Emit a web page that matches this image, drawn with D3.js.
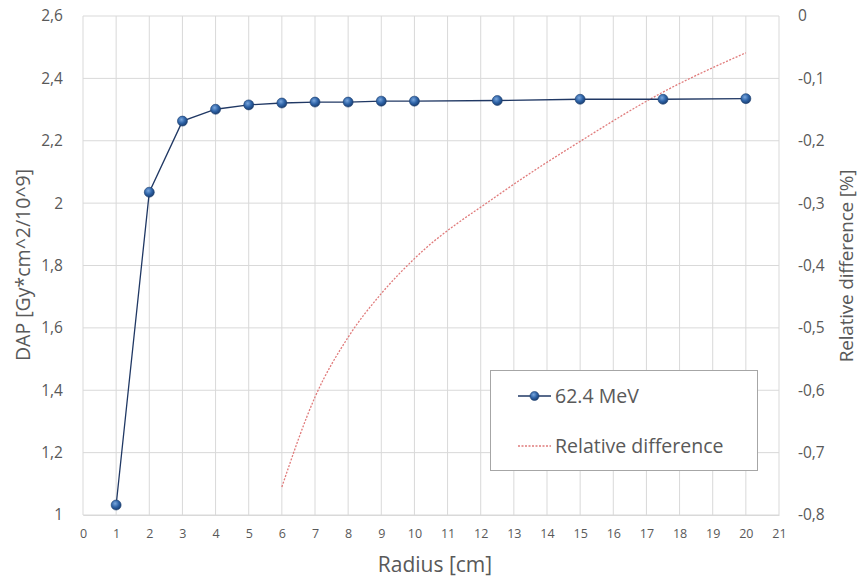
<!DOCTYPE html>
<html>
<head>
<meta charset="utf-8">
<script src="https://cdn.jsdelivr.net/npm/d3@7"></script>
<style>
  body { margin: 0; background: #fff; }
  svg text { font-family: "Open Sans", Lato, sans-serif; fill: #595959; }
</style>
</head>
<body>
<div id="chart-area"></div>
<script>
// data
const radius = [1, 2, 3, 4, 5, 6, 7, 8, 9, 10, 12.5, 15, 17.5, 20]
const dap = [1.032, 2.035, 2.263, 2.301, 2.315, 2.321, 2.324, 2.324, 2.327, 2.327, 2.329, 2.333, 2.333, 2.335]
const relRadius = [6, 7, 8, 9, 10, 12.5, 15, 17.5, 20]
const relDiff = [-0.755, -0.611, -0.515, -0.445, -0.389, -0.288, -0.201, -0.122, -0.059]
const xTicks = d3.range(0, 22)
const yTicks = [1, 1.2, 1.4, 1.6, 1.8, 2, 2.2, 2.4, 2.6]
const y2Ticks = [0, -0.1, -0.2, -0.3, -0.4, -0.5, -0.6, -0.7, -0.8]

const margin = { left: 83, right: 80, top: 16, bottom: 64 }
const fullW = 859, fullH = 579
const width = fullW - margin.left - margin.right
const height = fullH - margin.top - margin.bottom

const comma = d => String(d).replace('.', ',')

const svg = d3.select('#chart-area').append('svg')
    .attr('width', fullW)
    .attr('height', fullH)

const defs = svg.append('defs')
const grad = defs.append('radialGradient')
    .attr('id', 'marker-grad')
    .attr('cx', '40%').attr('cy', '35%').attr('r', '65%')
grad.append('stop').attr('offset', '0%').attr('stop-color', '#7aa7dd')
grad.append('stop').attr('offset', '55%').attr('stop-color', '#2f64a8')
grad.append('stop').attr('offset', '100%').attr('stop-color', '#1a3f73')

const g = svg.append('g')
    .attr('transform', `translate(${margin.left}, ${margin.top})`)

const xScale = d3.scaleLinear().domain([0, 21]).range([0, width])
const yScale = d3.scaleLinear().domain([1, 2.6]).range([height, 0])
const y2Scale = d3.scaleLinear().domain([-0.8, 0]).range([height, 0])

// gridlines
g.append('g')
    .selectAll('line')
    .data(xTicks)
    .enter().append('line')
    .attr('x1', d => xScale(d)).attr('x2', d => xScale(d))
    .attr('y1', 0).attr('y2', height)
    .attr('stroke', '#d9d9d9').attr('stroke-width', 1)

g.append('g')
    .selectAll('line')
    .data(yTicks)
    .enter().append('line')
    .attr('x1', 0).attr('x2', width)
    .attr('y1', d => yScale(d)).attr('y2', d => yScale(d))
    .attr('stroke', '#d9d9d9').attr('stroke-width', 1)

// axes
const xAxis = g.append('g')
    .attr('transform', `translate(0, ${height})`)
    .call(d3.axisBottom(xScale).tickValues(xTicks).tickSize(0).tickPadding(14))
xAxis.select('.domain').attr('stroke', '#d9d9d9')
xAxis.selectAll('text').attr('font-size', '12.5px').attr('fill', '#595959')

const yAxis = g.append('g')
    .call(d3.axisLeft(yScale).tickValues(yTicks).tickFormat(comma).tickSize(0).tickPadding(20))
yAxis.select('.domain').remove()
yAxis.selectAll('text').attr('font-size', '15.5px').attr('fill', '#595959')

const y2Axis = g.append('g')
    .attr('transform', `translate(${width}, 0)`)
    .call(d3.axisRight(y2Scale).tickValues(y2Ticks).tickFormat(comma).tickSize(0).tickPadding(19))
y2Axis.select('.domain').remove()
y2Axis.selectAll('text').attr('font-size', '15.5px').attr('fill', '#595959')

// relative difference (dotted red)
const relLine = d3.line()
    .x((d, i) => xScale(relRadius[i]))
    .y(d => y2Scale(d))
    .curve(d3.curveMonotoneX)

g.append('path')
    .datum(relDiff)
    .attr('d', relLine)
    .attr('fill', 'none')
    .attr('stroke', '#e07b7b')
    .attr('stroke-width', 1.3)
    .attr('stroke-dasharray', '2,1.5')

// DAP series
const dapLine = d3.line()
    .x((d, i) => xScale(radius[i]))
    .y(d => yScale(d))

g.append('path')
    .datum(dap)
    .attr('d', dapLine)
    .attr('fill', 'none')
    .attr('stroke', '#203864')
    .attr('stroke-width', 1.3)

g.selectAll('circle.pt')
    .data(dap)
    .enter().append('circle')
    .attr('class', 'pt')
    .attr('cx', (d, i) => xScale(radius[i]))
    .attr('cy', d => yScale(d))
    .attr('r', 5)
    .attr('fill', 'url(#marker-grad)')
    .attr('stroke', '#1f3f6e')
    .attr('stroke-width', 0.6)

// axis labels
svg.append('text')
    .attr('x', 435)
    .attr('y', 572)
    .attr('font-size', '21px')
    .attr('text-anchor', 'middle')
    .text('Radius [cm]')

svg.append('text')
    .attr('transform', 'translate(30, 265) rotate(-90)')
    .attr('font-size', '19.5px')
    .attr('text-anchor', 'middle')
    .text('DAP [Gy*cm^2/10^9]')

svg.append('text')
    .attr('transform', 'translate(853, 266) rotate(-90)')
    .attr('font-size', '19px')
    .attr('letter-spacing', '-0.2px')
    .attr('text-anchor', 'middle')
    .text('Relative difference [%]')

// legend
const legend = svg.append('g')
legend.append('rect')
    .attr('x', 490.5).attr('y', 370.5)
    .attr('width', 267).attr('height', 100)
    .attr('fill', '#fff')
    .attr('stroke', '#a6a6a6')
    .attr('stroke-width', 1)

legend.append('line')
    .attr('x1', 518).attr('x2', 551)
    .attr('y1', 396).attr('y2', 396)
    .attr('stroke', '#203864').attr('stroke-width', 1.3)
legend.append('circle')
    .attr('cx', 534.5).attr('cy', 396).attr('r', 4.5)
    .attr('fill', 'url(#marker-grad)')
    .attr('stroke', '#1f3f6e').attr('stroke-width', 0.6)
legend.append('text')
    .attr('x', 555).attr('y', 403)
    .attr('font-size', '19.5px')
    .text('62.4 MeV')

legend.append('line')
    .attr('x1', 518).attr('x2', 551)
    .attr('y1', 446).attr('y2', 446)
    .attr('stroke', '#e07b7b').attr('stroke-width', 1.3)
    .attr('stroke-dasharray', '2,1.5')
legend.append('text')
    .attr('x', 555).attr('y', 453)
    .attr('font-size', '19.5px')
    .text('Relative difference')
</script>
</body>
</html>
